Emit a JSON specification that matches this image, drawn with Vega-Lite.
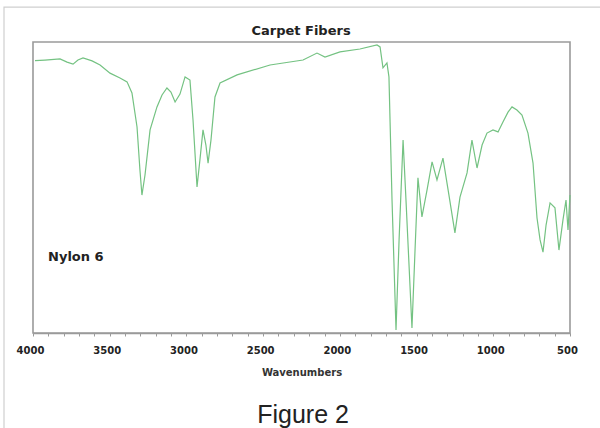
{
  "$schema": "https://vega.github.io/schema/vega-lite/v6.json",
  "width": 537,
  "height": 291,
  "autosize": {"type": "none"},
  "padding": {"left": 33, "top": 42, "right": 30, "bottom": 95},
  "background": "#ffffff",
  "config": {"view": {"stroke": "#9a9a9a", "strokeWidth": 1.6}},
  "data": {"values": [
      {"w": 3987, "t": 93.6}, {"w": 3922, "t": 93.8}, {"w": 3824, "t": 94.2}, {"w": 3778, "t": 93.1},
      {"w": 3739, "t": 92.4}, {"w": 3707, "t": 93.8}, {"w": 3674, "t": 94.5}, {"w": 3615, "t": 93.5},
      {"w": 3563, "t": 92.1}, {"w": 3498, "t": 89.3}, {"w": 3433, "t": 87.6}, {"w": 3387, "t": 86.3},
      {"w": 3355, "t": 82.5}, {"w": 3322, "t": 70.8}, {"w": 3303, "t": 56.0}, {"w": 3290, "t": 47.4},
      {"w": 3270, "t": 54.3}, {"w": 3237, "t": 69.8}, {"w": 3192, "t": 77.7}, {"w": 3159, "t": 81.8},
      {"w": 3127, "t": 84.2}, {"w": 3101, "t": 82.8}, {"w": 3074, "t": 79.4}, {"w": 3042, "t": 82.1},
      {"w": 3009, "t": 88.0}, {"w": 2977, "t": 86.9}, {"w": 2957, "t": 73.2}, {"w": 2931, "t": 50.2},
      {"w": 2912, "t": 59.5}, {"w": 2892, "t": 69.8}, {"w": 2873, "t": 64.6}, {"w": 2859, "t": 58.4},
      {"w": 2840, "t": 66.3}, {"w": 2814, "t": 81.1}, {"w": 2781, "t": 85.9}, {"w": 2670, "t": 88.7},
      {"w": 2455, "t": 92.1}, {"w": 2240, "t": 93.8}, {"w": 2149, "t": 96.2}, {"w": 2097, "t": 94.8},
      {"w": 1999, "t": 96.6}, {"w": 1869, "t": 97.6}, {"w": 1758, "t": 99.0}, {"w": 1738, "t": 98.3},
      {"w": 1719, "t": 91.1}, {"w": 1693, "t": 92.8}, {"w": 1680, "t": 88.0}, {"w": 1660, "t": 45.7},
      {"w": 1634, "t": 1.0}, {"w": 1614, "t": 32.0}, {"w": 1588, "t": 66.3}, {"w": 1569, "t": 45.7},
      {"w": 1530, "t": 1.7}, {"w": 1510, "t": 28.5}, {"w": 1491, "t": 53.3}, {"w": 1465, "t": 39.9},
      {"w": 1432, "t": 49.1}, {"w": 1399, "t": 58.8}, {"w": 1367, "t": 52.6}, {"w": 1328, "t": 60.1},
      {"w": 1289, "t": 47.4}, {"w": 1250, "t": 34.4}, {"w": 1217, "t": 46.7}, {"w": 1171, "t": 55.0},
      {"w": 1139, "t": 66.3}, {"w": 1106, "t": 56.7}, {"w": 1073, "t": 64.6}, {"w": 1041, "t": 68.7},
      {"w": 1002, "t": 69.8}, {"w": 969, "t": 69.1}, {"w": 937, "t": 72.5}, {"w": 904, "t": 75.9},
      {"w": 878, "t": 77.7}, {"w": 846, "t": 76.6}, {"w": 813, "t": 74.9}, {"w": 774, "t": 68.7},
      {"w": 741, "t": 58.4}, {"w": 715, "t": 39.5}, {"w": 695, "t": 32.0}, {"w": 676, "t": 27.8},
      {"w": 656, "t": 37.1}, {"w": 630, "t": 44.7}, {"w": 598, "t": 43.0}, {"w": 572, "t": 28.5},
      {"w": 546, "t": 38.8}, {"w": 526, "t": 45.7}, {"w": 513, "t": 35.4}, {"w": 500, "t": 47.4}
  ]},
  "encoding": {
    "x": {
      "field": "w", "type": "quantitative",
      "scale": {"domain": [500, 4000], "reverse": true, "nice": false, "zero": false},
      "axis": {
        "title": "Wavenumbers",
        "values": [4000, 3900, 3800, 3700, 3600, 3500, 3400, 3300, 3200, 3100, 3000, 2900, 2800, 2700, 2600, 2500, 2400, 2300, 2200, 2100, 2000, 1900, 1800, 1700, 1600, 1500, 1400, 1300, 1200, 1100, 1000, 900, 800, 700, 600, 500],
        "format": "d",
        "labelExpr": "datum.value % 500 === 0 ? datum.label : ''",
        "grid": false,
        "domainColor": "#9a9a9a",
        "domainWidth": 1.6,
        "tickColor": "#9a9a9a",
        "tickSize": 3,
        "labelFont": "DejaVu Sans",
        "labelFontSize": 10,
        "labelFontWeight": "bold",
        "labelColor": "#222222",
        "labelPadding": 9,
        "labelOffset": -3,
        "labelOverlap": false,
        "labelFlush": false,
        "titleFont": "DejaVu Sans",
        "titleFontSize": 10,
        "titleFontWeight": "bold",
        "titleColor": "#333333",
        "titlePadding": 12
      }
    },
    "y": {"field": "t", "type": "quantitative", "scale": {"domain": [0, 100], "nice": false, "zero": false}, "axis": null}
  },
  "layer": [
    {
      "mark": {"type": "line", "color": "#74c282", "strokeWidth": 1.2}
    },
    {
      "data": {"values": [{"w": 3902, "t": 26, "label": "Nylon 6"}]},
      "mark": {"type": "text", "align": "left", "baseline": "middle", "font": "DejaVu Sans", "fontSize": 13, "fontWeight": "bold", "color": "#222222"},
      "encoding": {"text": {"field": "label"}}
    },
    {
      "data": {"values": [{"w": 2253, "t": 103.8, "label": "Carpet Fibers"}]},
      "mark": {"type": "text", "align": "center", "baseline": "middle", "font": "DejaVu Sans", "fontSize": 13, "fontWeight": "bold", "color": "#222222"},
      "encoding": {"text": {"field": "label"}}
    },
    {
      "data": {"values": [{"w": 2240, "t": -28.1, "label": "Figure 2"}]},
      "mark": {"type": "text", "align": "center", "baseline": "middle", "font": "Liberation Sans", "fontSize": 25, "color": "#222222"},
      "encoding": {"text": {"field": "label"}}
    },
    {
      "data": {"values": [{"w": 4189, "w2": 200, "t": 112, "t2": -40}]},
      "mark": {"type": "rect", "fillOpacity": 0, "stroke": "#cfcfcf", "strokeWidth": 1.2},
      "encoding": {"x2": {"field": "w2"}, "y2": {"field": "t2"}}
    }
  ]
}
